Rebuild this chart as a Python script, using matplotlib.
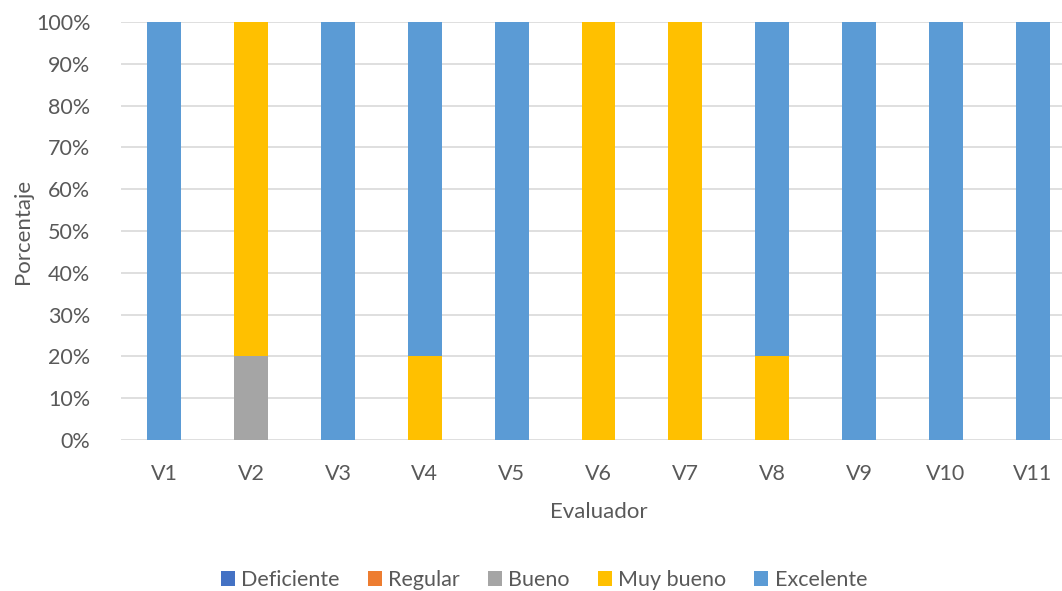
import matplotlib
matplotlib.use("Agg")
import matplotlib.pyplot as plt
import numpy as np
from matplotlib.ticker import PercentFormatter

categories = ["V1", "V2", "V3", "V4", "V5", "V6", "V7", "V8", "V9", "V10", "V11"]
series_names = ["Deficiente", "Regular", "Bueno", "Muy bueno", "Excelente"]
deficiente = [0, 0, 0, 0, 0, 0, 0, 0, 0, 0, 0]
regular = [0, 0, 0, 0, 0, 0, 0, 0, 0, 0, 0]
bueno = [0, 20, 0, 0, 0, 0, 0, 0, 0, 0, 0]
muy_bueno = [0, 80, 0, 20, 0, 100, 100, 20, 0, 0, 0]
excelente = [100, 0, 100, 80, 100, 0, 0, 80, 100, 100, 100]
colors = ["#4472C4", "#ED7D31", "#A5A5A5", "#FFC000", "#5B9BD5"]

plt.rcParams['font.family'] = ['Lato', 'DejaVu Sans']
txt = "#595959"

fig = plt.figure(figsize=(10.62, 5.91), dpi=100)
ax = fig.add_axes([121/1062, 1-440/591, 955/1062, (440-22)/591])

x = np.arange(len(categories))
bottom = np.zeros(len(categories))
for name, vals, c in zip(series_names, [deficiente, regular, bueno, muy_bueno, excelente], colors):
    v = np.array(vals, dtype=float)
    ax.bar(x, v, 0.39, bottom=bottom, color=c, label=name, zorder=3)
    bottom += v

ax.set_xlim(-0.5, len(categories) - 0.5)
ax.set_ylim(0, 100)
ax.set_yticks(np.arange(0, 101, 10))
ax.yaxis.set_major_formatter(PercentFormatter(decimals=0))
ax.set_xticks(x)
ax.set_xticklabels(categories)
ax.grid(axis='y', color='#D9D9D9', linewidth=1.2, zorder=0)
for s in ax.spines.values():
    s.set_visible(False)
ax.tick_params(axis='both', length=0, labelsize=15.5, colors=txt)
ax.tick_params(axis='y', pad=22)
ax.tick_params(axis='x', pad=17)
ax.set_ylabel("Porcentaje", fontsize=16, color=txt, labelpad=2)
ax.set_xlabel("Evaluador", fontsize=16, color=txt, labelpad=13)

leg = fig.legend(loc='center', bbox_to_anchor=(544/1062, 1-580/591), ncol=5, frameon=False,
                 fontsize=15.5, handlelength=0.65, handleheight=0.65, handletextpad=0.3,
                 columnspacing=1.3, labelcolor=txt)

fig.savefig("out.png", dpi=100)
